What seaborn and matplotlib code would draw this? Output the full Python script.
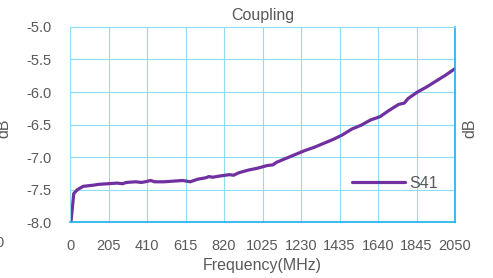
import pandas as pd
import matplotlib
matplotlib.use('Agg')
import matplotlib.pyplot as plt
import seaborn as sns

# Coupling data
freq_mhz = [5, 20, 40, 70, 100, 130, 150, 200, 250, 280, 300, 350, 380,
            400, 430, 450, 500, 550, 600, 640, 680, 720, 740, 760, 800, 850,
            870, 900, 950, 1000, 1050, 1080, 1100, 1150, 1200, 1250, 1300,
            1350, 1400, 1450, 1500, 1550, 1600, 1650, 1700, 1750, 1780, 1800,
            1850, 1900, 1950, 2000, 2050]
s41_db = [-8.00, -7.56, -7.50, -7.45, -7.44, -7.43, -7.42, -7.41, -7.40,
          -7.41, -7.39, -7.38, -7.39, -7.38, -7.36, -7.38, -7.38, -7.37,
          -7.36, -7.38, -7.34, -7.32, -7.30, -7.31, -7.29, -7.27, -7.28,
          -7.24, -7.20, -7.17, -7.13, -7.12, -7.08, -7.02, -6.96, -6.90,
          -6.85, -6.79, -6.73, -6.66, -6.57, -6.51, -6.43, -6.38, -6.28,
          -6.19, -6.17, -6.10, -6.00, -5.92, -5.83, -5.74, -5.64]
x_ticks = [0, 205, 410, 615, 820, 1025, 1230, 1435, 1640, 1845, 2050]
y_ticks = [-8.0, -7.5, -7.0, -6.5, -6.0, -5.5, -5.0]

df = pd.DataFrame({'Frequency': freq_mhz, 'S41': s41_db})

sns.set_style('white')
plt.rcParams['font.family'] = ['Liberation Sans', 'DejaVu Sans']

text_gray = '#595959'
grid_blue = '#8fdcf5'
spine_blue = '#1aaeee'

fig = plt.figure(figsize=(4.93, 2.78), dpi=100)
ax = fig.add_axes([0.142, 0.201, 0.781, 0.702])

sns.lineplot(data=df, x='Frequency', y='S41', color='#7030a0',
             linewidth=2.3, label='S41', ax=ax)

ax.set_xlim(0, 2050)
ax.set_ylim(-8.0, -5.0)
ax.set_xticks(x_ticks)
ax.set_xticklabels([str(t) for t in x_ticks])
ax.set_yticks(y_ticks)
ax.set_yticklabels([f'{t:.1f}' for t in y_ticks])
ax.tick_params(length=0, labelsize=10.5, colors=text_gray, pad=12)
ax.tick_params(axis='y', pad=13)
ax.grid(True, color=grid_blue, linewidth=0.8)
for side in ['left', 'top']:
    ax.spines[side].set_color(grid_blue)
    ax.spines[side].set_linewidth(0.8)
for side in ['right', 'bottom']:
    ax.spines[side].set_color(spine_blue)
    ax.spines[side].set_linewidth(1.2)

ax.set_title('Coupling', fontsize=11.5, color=text_gray, pad=5)
ax.set_xlabel('Frequency(MHz)', fontsize=11.5, color=text_gray, labelpad=4)
ax.set_ylabel('')

fig.text(0.008, 0.54, 'dB', rotation=90, fontsize=11.5, color=text_gray,
         ha='center', va='center')
fig.text(0.954, 0.54, 'dB', rotation=90, fontsize=11.5, color=text_gray,
         ha='center', va='center')
fig.text(-0.01, 0.125, '0', fontsize=10.5, color=text_gray,
         ha='left', va='center')

leg = ax.legend(loc='center left', bbox_to_anchor=(0.733, 0.2), frameon=False,
                fontsize=11.5, handlelength=3.3, handletextpad=0.25,
                borderaxespad=0, borderpad=0)
for t in leg.get_texts():
    t.set_color(text_gray)

fig.savefig('out.png', dpi=100)
